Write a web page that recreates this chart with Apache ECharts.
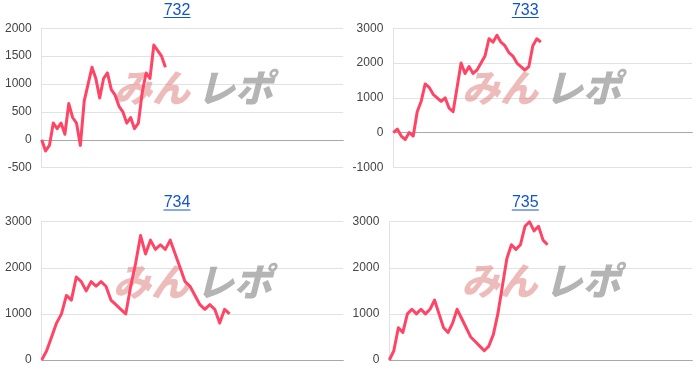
<!DOCTYPE html>
<html><head><meta charset="utf-8">
<script src="https://cdn.jsdelivr.net/npm/echarts@6/dist/echarts.min.js"></script>
<style>html,body{margin:0;padding:0;background:#fff}#c{width:700px;height:384px}</style>
</head><body><div id="c"></div>
<script>
// ---- data ----
const titles = ['732', '733', '734', '735'];
const values732 = [0, -200, -100, 300, 200, 300, 100, 650, 400, 300, -100, 700, 1000, 1300, 1100, 750, 1100, 1200, 900, 800, 600, 500, 300, 400, 200, 300, 850, 1200, 1100, 1700, 1600, 1500, 1300];
const values733 = [0, 100, -100, -200, 0, -100, 600, 900, 1400, 1300, 1100, 1000, 900, 1000, 700, 600, 1300, 2000, 1700, 1900, 1700, 1800, 2000, 2200, 2700, 2600, 2800, 2600, 2500, 2300, 2200, 2000, 1900, 1800, 1900, 2500, 2700, 2600];
const values734 = [0, 200, 500, 800, 1000, 1400, 1300, 1800, 1700, 1500, 1700, 1600, 1700, 1600, 1300, 1200, 1100, 1000, 1600, 2100, 2700, 2300, 2600, 2400, 2500, 2400, 2600, 2300, 2000, 1700, 1600, 1400, 1200, 1100, 1200, 1100, 800, 1100, 1000];
const values735 = [0, 200, 700, 600, 1000, 1100, 1000, 1100, 1000, 1100, 1300, 1000, 700, 600, 800, 1100, 900, 700, 500, 400, 300, 200, 300, 550, 1000, 1600, 2200, 2500, 2400, 2500, 2900, 3000, 2800, 2900, 2600, 2500];
const xCounts = [79, 76, 62, 68];
const yMins = [-500, -1000, 0, 0];
const yMaxs = [2000, 3000, 3000, 3000];
const ySteps = [500, 1000, 1000, 1000];
const watermarkA = 'みん';
const watermarkB = 'レポ';

// ---- layout ----
const seriesValues = [values732, values733, values734, values735];
const grids = [
  {left: 41.7, top: 28.3, width: 301.6, height: 139.4},
  {left: 393.3, top: 28.3, width: 299, height: 139},
  {left: 41.7, top: 221.7, width: 301.6, height: 138.3},
  {left: 389.3, top: 221.7, width: 303, height: 138.3}
];
const titlePos = [[177, 10.5], [525.3, 10.5], [177, 203], [525.3, 203]];
const markPos = [[194, 87.5], [542, 87.5], [193, 281.5], [541.5, 281]];

const FONT = '"Liberation Sans", Arial, sans-serif';
const chart = echarts.init(document.getElementById('c'), null, {renderer: 'canvas'});

const xAxes = [], yAxes = [], series = [], graphics = [];
seriesValues.forEach((vals, i) => {
  const cats = [];
  for (let k = 0; k < xCounts[i]; k++) cats.push(String(k + 1));
  xAxes.push({
    type: 'category', gridIndex: i, data: cats, boundaryGap: false,
    axisTick: {show: false}, axisLabel: {show: false},
    axisLine: {show: true, onZero: true, lineStyle: {color: '#a8a8a8', width: 1}},
    splitLine: {show: false}
  });
  yAxes.push({
    type: 'value', gridIndex: i, min: yMins[i], max: yMaxs[i], interval: ySteps[i],
    axisLine: {show: true, lineStyle: {color: '#e2e2e2', width: 1}},
    axisTick: {show: false},
    axisLabel: {color: '#444', fontSize: 12, fontFamily: FONT, margin: 10, formatter: v => String(v)},
    splitLine: {lineStyle: {color: '#e2e2e2', width: 1}}
  });
  series.push({
    type: 'line', xAxisIndex: i, yAxisIndex: i, data: vals,
    symbol: 'none', smooth: false, z: 5,
    lineStyle: {color: '#ff4566', width: 3, join: 'round'}
  });
  const [tx, ty] = titlePos[i];
  graphics.push({
    type: 'text', x: tx, y: ty, z: 10,
    style: {text: titles[i], fill: '#1155cc', font: '16px ' + FONT, textAlign: 'center', textVerticalAlign: 'middle'}
  });
  graphics.push({
    type: 'rect', z: 10, shape: {x: tx - 13.5, y: ty + 6.5, width: 27, height: 1},
    style: {fill: '#1155cc'}
  });
  const [mx, my] = markPos[i];
  graphics.push({
    type: 'text', x: mx - 4, y: my, z: 1, silent: true,
    style: {text: watermarkA, fill: 'rgba(221,120,120,0.5)', font: 'italic 900 38px "Noto Sans CJK JP"', textAlign: 'right', textVerticalAlign: 'middle'}
  });
  graphics.push({
    type: 'text', x: mx + 3, y: my, z: 1, silent: true,
    style: {text: watermarkB, fill: 'rgba(140,140,140,0.65)', font: 'italic 900 38px "Noto Sans CJK JP"', textAlign: 'left', textVerticalAlign: 'middle'}
  });
});

chart.setOption({
  animation: false,
  backgroundColor: '#fff',
  grid: grids.map(g => Object.assign({containLabel: false}, g)),
  xAxis: xAxes,
  yAxis: yAxes,
  series: series,
  graphic: graphics
});
</script>
</body></html>
